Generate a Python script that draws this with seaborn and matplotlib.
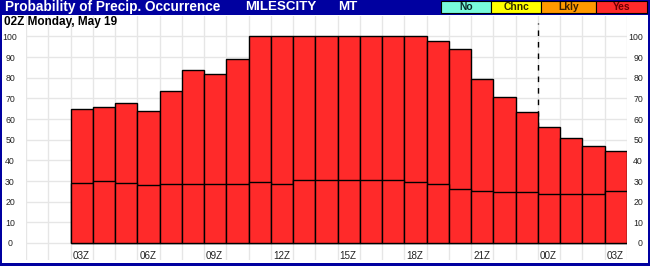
import matplotlib
matplotlib.use("Agg")
import matplotlib.pyplot as plt
from matplotlib.patches import Rectangle
import seaborn as sns
import pandas as pd

# ---------------- data ----------------
hour_labels = ["03Z", "04Z", "05Z", "06Z", "07Z", "08Z", "09Z", "10Z", "11Z",
               "12Z", "13Z", "14Z", "15Z", "16Z", "17Z", "18Z", "19Z", "20Z",
               "21Z", "22Z", "23Z", "00Z", "01Z", "02Z", "03Z"]
upper_pct = [65, 66, 68, 64, 73.5, 84, 82, 89, 100, 100, 100, 100, 100, 100,
             100, 100, 98, 94, 79.5, 70.5, 63.5, 56, 51, 47, 44.5]
lower_pct = [29, 30, 29, 28, 28.5, 28.5, 28.5, 28.5, 29.5, 28.7, 30.5, 30.5,
             30.5, 30.5, 30.5, 29.5, 28.5, 26, 25, 24.5, 24.5, 23.5, 23.5,
             23.5, 25]
y_ticks = [0, 10, 20, 30, 40, 50, 60, 70, 80, 90, 100]
legend_names = ["No", "Chnc", "Lkly", "Yes"]
title_text = "Probability of Precip. Occurrence"
station = "MILESCITY"
state = "MT"
subtitle = "02Z Monday, May 19"

NAVY = "#0000A0"
RED = "#FF2A2A"
legend_fill = ["#78FADC", "#FFFF00", "#FF9900", "#FF2A2A"]
legend_text = ["#0A2A2A", "#302800", "#3A1E00", "#6A0000"]

sns.set_theme(style="white")
plt.rcParams["font.family"] = ["Liberation Sans", "DejaVu Sans"]

W, H = 650, 266
fig = plt.figure(figsize=(W / 100, H / 100), dpi=100)
fig.patch.set_facecolor("white")


def fx(x):
    return x / W


def fy(y):
    return 1 - y / H


ax_top, ax_bot, ax_left, ax_right = 16, 260, 26, 627
ax = fig.add_axes([fx(ax_left), fy(ax_bot), (ax_right - ax_left) / W,
                   (ax_bot - ax_top) / H])
ax.set_facecolor("white")

df = pd.DataFrame({"slot": list(range(len(upper_pct))),
                   "upper": upper_pct, "lower": lower_pct})
sns.barplot(data=df, x="slot", y="upper", color=RED, saturation=1, width=1,
            edgecolor="black", linewidth=1.0, errorbar=None, ax=ax, zorder=3)
sns.barplot(data=df, x="slot", y="lower", color=RED, saturation=1, width=1,
            edgecolor="black", linewidth=1.0, errorbar=None, ax=ax, zorder=4)

# scales
y0 = (243 - ax_bot) / 2.065
y1 = (243 - ax_top) / 2.065
ax.set_ylim(y0, y1)
ax.set_xlim(-2.5, len(upper_pct) - 0.5)

# grid
ax.set_xticks([i - 0.5 for i in range(-2, len(upper_pct) + 1)], minor=True)
ax.set_xticks([])
ax.xaxis.grid(True, which="minor", color="#E6E6E6", linewidth=1.0, zorder=0)
ax.set_yticks(y_ticks)
ax.yaxis.grid(True, which="major", color="#E6E6E6", linewidth=1.0, zorder=0)
ax.set_axisbelow(True)
for s in ax.spines.values():
    s.set_visible(False)
ax.set_xlabel("")
ax.set_ylabel("")

# y tick labels on both sides
ax.tick_params(axis="y", which="both", length=0, labelsize=6.3,
               labelcolor="#222222", labelleft=True, labelright=True, pad=11.5)
ax.tick_params(axis="x", which="both", length=0)
for t in ax.yaxis.get_major_ticks():
    t.label1.set_horizontalalignment("center")
    t.label2.set_horizontalalignment("right")

# x labels (inside the axes, left-aligned at bar edge)
for i in range(0, len(hour_labels), 3):
    ax.text(i - 0.5 + 0.09, -7.9, hour_labels[i], ha="left", va="baseline",
            fontsize=7.1, color="#222222", zorder=6)

# dashed line marking 00Z (behind the bars, above zero only)
ax.vlines(20.5, 0, (243 - 23) / 2.065, color="black", linewidth=1.0,
          linestyle=(0, (4, 4.3)), zorder=2)

# frame and title bar
fig.patches.append(Rectangle((0, fy(15)), 1, 15 / H, transform=fig.transFigure,
                             facecolor=NAVY, edgecolor="none", zorder=10))
fig.patches.append(Rectangle((0, 0), 2 / W, 1, transform=fig.transFigure,
                             facecolor=NAVY, edgecolor="none", zorder=10))
fig.patches.append(Rectangle((fx(648), 0), 2 / W, 1, transform=fig.transFigure,
                             facecolor=NAVY, edgecolor="none", zorder=10))
fig.patches.append(Rectangle((0, 0), 1, 3 / H, transform=fig.transFigure,
                             facecolor=NAVY, edgecolor="none", zorder=10))

fig.text(fx(5), fy(7.5), title_text, color="white", fontsize=9.8,
         fontweight="bold", ha="left", va="center", zorder=11)
fig.text(fx(245), fy(7.5), station, color="white", fontsize=9.6,
         fontweight="bold", ha="left", va="center", zorder=11)
fig.text(fx(338), fy(7.5), state, color="white", fontsize=9.6,
         fontweight="bold", ha="left", va="center", zorder=11)

# legend boxes
edges = [441, 491, 541, 596, 647]
for k, name in enumerate(legend_names):
    xa, xb = edges[k], edges[k + 1]
    fig.patches.append(Rectangle((fx(xa), fy(13)), (xb - xa) / W, 12 / H,
                                 transform=fig.transFigure,
                                 facecolor=legend_fill[k], edgecolor="black",
                                 linewidth=0.8, zorder=12))
    fig.text(fx((xa + xb) / 2), fy(7.3), name, color=legend_text[k],
             fontsize=7.4, fontweight="bold", ha="center", va="center",
             zorder=13)

# subtitle
fig.text(fx(4), fy(21.5), subtitle, color="black", fontsize=8.5,
         fontweight="bold", ha="left", va="center", zorder=11)

fig.savefig("out.png", dpi=100, facecolor="white")
